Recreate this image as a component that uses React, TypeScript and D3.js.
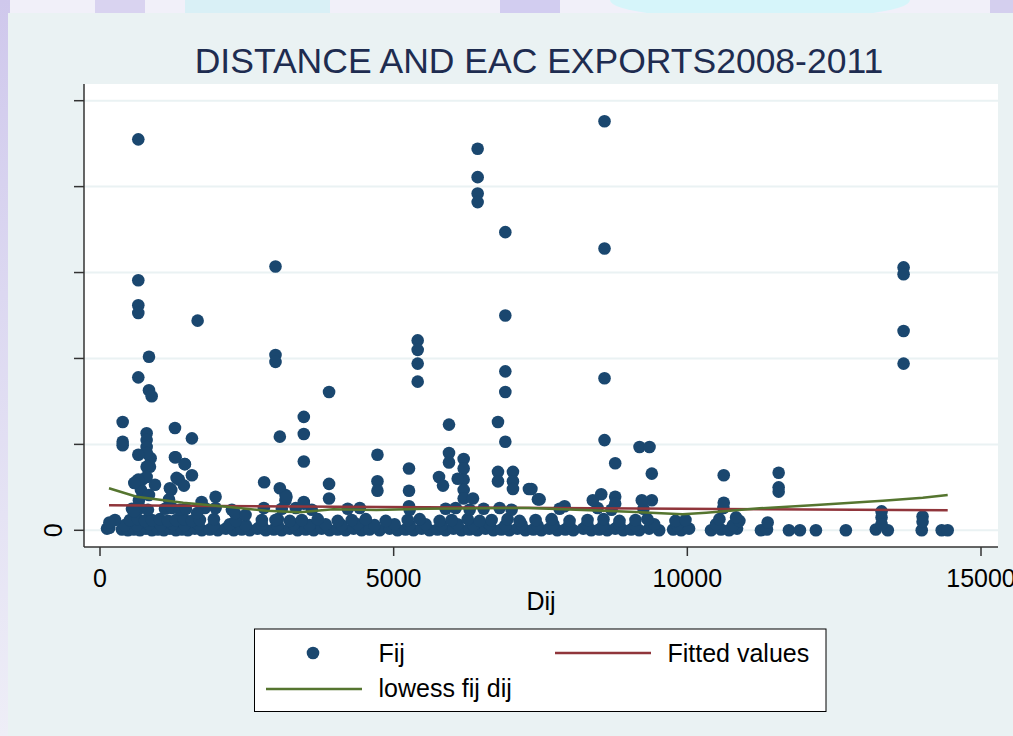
import React from "react";
import * as d3 from "d3";

// Tall observations (Dij in km, Fij in axis units; the ticks carry no labels except 0)
const peakObs: [number, number][] = [
  [652, 4.55], [652, 2.91], [652, 2.62], [652, 2.53], [652, 1.78],
  [834, 2.02], [834, 1.63], [880, 1.56],
  [386, 1.26], [386, 1.03], [386, 0.99],
  [794, 1.13], [794, 1.05], [794, 0.97], [794, 0.9], [794, 0.74], [794, 0.62],
  [652, 0.88], [652, 0.59], [584, 0.55], [936, 0.53],
  [1662, 2.44],
  [1276, 1.19], [1276, 0.85], [1446, 0.77], [1565, 1.07], [1565, 0.64], [1304, 0.61], [1190, 0.49],
  [2988, 3.07], [2988, 2.04], [2988, 1.96], [3062, 1.09],
  [2795, 0.56], [3062, 0.49], [3175, 0.39],
  [3470, 1.32], [3470, 1.12], [3470, 0.8], [3470, 0.31],
  [3900, 1.61], [3900, 0.54], [3900, 0.37],
  [8590, 4.76], [8590, 3.28], [8590, 1.77], [8590, 1.05],
  [6430, 4.44], [6430, 4.11], [6430, 3.92], [6430, 3.82],
  [6901, 3.47], [6901, 2.5], [6901, 1.85], [6901, 1.61], [6901, 1.03],
  [6776, 1.26],
  [5409, 2.21], [5409, 2.1], [5409, 1.94], [5409, 1.73],
  [5942, 1.23], [5942, 0.9], [5942, 0.79],
  [9186, 0.97], [9356, 0.97],
  [13682, 3.06], [13682, 2.98], [13682, 2.32], [13682, 1.94],
];

// Middle observations, roughly 0.2 to 0.9
const midObs: [number, number][] = [
  [6192, 0.83], [6192, 0.72], [6192, 0.59], [6192, 0.47], [6192, 0.37], [6090, 0.6],
  [5772, 0.62], [5840, 0.52],
  [6776, 0.68], [6776, 0.57],
  [7031, 0.68], [7031, 0.57], [7031, 0.48],
  [7303, 0.48], [7456, 0.36],
  [4724, 0.88], [4724, 0.57], [4724, 0.46],
  [5261, 0.72], [5261, 0.46], [5261, 0.28],
  [6350, 0.37],
  [8772, 0.78], [9395, 0.66], [9395, 0.35], [9225, 0.35], [10620, 0.64], [10620, 0.32],
  [7345, 0.48], [7485, 0.36], [7910, 0.28], [8391, 0.35], [8534, 0.42], [8772, 0.39], [8772, 0.31],
  [10830, 0.15],
  [11555, 0.67], [11555, 0.5], [11555, 0.45],
  [13307, 0.22], [13307, 0.15], [13307, 0.07], [14005, 0.16], [14005, 0.1], [11368, 0.09],
  [862, 0.84], [850, 0.74], [624, 0.57], [719, 0.59], [697, 0.47], [663, 0.35], [834, 0.41], [578, 0.22],
  [1287, 0.85], [1441, 0.77], [1344, 0.59], [1213, 0.47], [1174, 0.36], [1429, 0.52],
  [1730, 0.33], [1968, 0.39], [1655, 0.2], [1968, 0.26], [2296, 0.2], [2478, 0.18], [2790, 0.26],
  [3158, 0.41], [3158, 0.35], [2988, 0.12], [3470, 0.33],
  [160, 0.09],
];

// Dense band of small flows near zero
const lowObs: [number, number][] = [
  [119, 0.02], [160, 0.03], [374, 0.01], [476, 0.0], [578, 0.01], [680, 0.0], [782, 0.02], [884, 0.0],
  [986, 0.01], [1088, 0.0], [1190, 0.02], [1292, 0.0], [1394, 0.01], [1496, 0.0], [1615, 0.02],
  [1734, 0.0], [1870, 0.01], [2006, 0.0], [2142, 0.02], [2278, 0.0], [2414, 0.01], [2550, 0.0],
  [2686, 0.02], [2822, 0.0], [2958, 0.01], [3094, 0.0], [3230, 0.02], [3366, 0.0], [3502, 0.01],
  [3638, 0.0], [3774, 0.02], [3910, 0.0], [4046, 0.01], [4182, 0.0], [4318, 0.02], [4454, 0.0],
  [4590, 0.01], [4760, 0.0], [4930, 0.02], [5066, 0.0], [5202, 0.01], [5338, 0.0], [5474, 0.02],
  [5610, 0.0], [5746, 0.01], [5882, 0.0], [6018, 0.02], [6154, 0.0], [6290, 0.01], [6426, 0.0],
  [6562, 0.02], [6698, 0.0], [6834, 0.01], [6970, 0.0], [7106, 0.02], [7242, 0.0], [7378, 0.01],
  [7514, 0.0], [7650, 0.02], [7786, 0.0], [7922, 0.01], [8058, 0.0], [8228, 0.02], [8364, 0.0],
  [8500, 0.01], [8636, 0.0], [8772, 0.02], [8908, 0.0], [9044, 0.01], [9180, 0.0], [9350, 0.02],
  [9520, 0.0], [9758, 0.01], [9894, 0.0], [10030, 0.02], [10404, 0.0], [10574, 0.01], [10710, 0.0],
  [10846, 0.02], [11254, 0.0], [11356, 0.01], [11730, 0.0], [11917, 0.0], [12189, 0.0], [12699, 0.0],
  [13209, 0.01], [13413, 0.0], [13991, 0.0], [14331, 0.0], [14433, 0.0],
  [425, 0.06], [629, 0.06], [833, 0.07], [1037, 0.06], [1241, 0.07], [1445, 0.06], [1675, 0.07],
  [1938, 0.06], [2210, 0.07], [2482, 0.06], [2754, 0.07], [3026, 0.06], [3298, 0.07], [3570, 0.06],
  [3842, 0.07], [4114, 0.06], [4386, 0.07], [4675, 0.06], [5015, 0.07], [5270, 0.06], [5542, 0.07],
  [5814, 0.06], [6086, 0.07], [6358, 0.06], [6630, 0.07], [6902, 0.06], [7174, 0.07], [7446, 0.06],
  [7718, 0.07], [7990, 0.06], [8296, 0.07], [8568, 0.06], [8840, 0.07], [9112, 0.06], [9435, 0.07],
  [9826, 0.06], [10489, 0.07], [10778, 0.06],
  [255, 0.12], [510, 0.12], [646, 0.13], [765, 0.11], [884, 0.12], [1021, 0.13], [1157, 0.11],
  [1293, 0.12], [1429, 0.13], [1565, 0.11], [1701, 0.12], [1939, 0.13], [2313, 0.11], [2756, 0.12],
  [3028, 0.13], [3232, 0.11], [3436, 0.12], [3708, 0.13], [4048, 0.11], [4287, 0.12], [4525, 0.13],
  [4865, 0.11], [5239, 0.12], [5443, 0.13], [5783, 0.11], [5988, 0.12], [6260, 0.13], [6464, 0.11],
  [6668, 0.12], [6940, 0.13], [7144, 0.11], [7416, 0.12], [7689, 0.13], [7995, 0.11], [8301, 0.12],
  [8573, 0.13], [8845, 0.11], [9117, 0.12], [9321, 0.13], [9798, 0.11], [9968, 0.12], [10546, 0.13],
  [10886, 0.11],
  [544, 0.25], [680, 0.26], [816, 0.24], [1106, 0.25], [1225, 0.26], [1361, 0.24], [1463, 0.25],
  [1786, 0.26], [2245, 0.24], [3096, 0.25], [3334, 0.26], [3606, 0.24], [4218, 0.25], [4423, 0.26],
  [5273, 0.24], [5885, 0.25], [6056, 0.26], [6294, 0.24], [6532, 0.25], [6804, 0.26], [7008, 0.24],
  [7825, 0.25], [8471, 0.26], [8709, 0.24], [9253, 0.25], [10614, 0.26],
];

// Linear fit and lowess smoother
const fittedLine: [number, number][] = [[153, 0.291], [14433, 0.232]];
const lowessLine: [number, number][] = [
  [153, 0.489], [624, 0.391], [1417, 0.321], [2155, 0.275], [2836, 0.228], [3402, 0.209],
  [3966, 0.244], [4708, 0.236], [5558, 0.251], [7300, 0.26], [9016, 0.217], [9918, 0.186],
  [10321, 0.205], [11229, 0.256], [12194, 0.294], [13328, 0.345], [14008, 0.38], [14433, 0.411],
];

const xTicks = [0, 5000, 10000, 15000];
const yTicks = [0, 1, 2, 3, 4, 5];
const yTickLabels = ["0", "", "", "", "", ""];

const NAVY = "#1a476f";
const MAROON = "#90353b";
const GREEN = "#55752f";
const BG = "#eaf2f3";
const FONT = "'Liberation Sans', Arial, sans-serif";

export default function App() {
  const W = 1013;
  const H = 736;
  const plot = { left: 84, right: 998, top: 84, bottom: 547 };

  const x = d3.scaleLinear().domain([0, 15000]).range([100, 981]);
  const y = d3.scaleLinear().domain([0, 5]).range([530.3, 100.7]);

  const line = d3
    .line<[number, number]>()
    .x((d) => x(d[0]))
    .y((d) => y(d[1]));

  const allObs = [...lowObs, ...midObs, ...peakObs];

  return (
    <svg
      width={W}
      height={H}
      style={{ position: "absolute", left: 0, top: 0, fontFamily: FONT }}
    >
      <defs>
        <linearGradient id="leftStrip" x1="0" y1="0" x2="0" y2="1">
          <stop offset="0" stopColor="#cfc8ec" />
          <stop offset="0.4" stopColor="#dcd8f1" />
          <stop offset="1" stopColor="#eeeef7" />
        </linearGradient>
      </defs>

      {/* slide background behind the graph */}
      <rect x={0} y={0} width={W} height={H} fill="#f1f0f9" />
      <rect x={0} y={0} width={10} height={H} fill="url(#leftStrip)" />
      <rect x={95} y={0} width={50} height={13} fill="#d9d3f0" />
      <rect x={185} y={0} width={145} height={13} fill="#d9f0f6" />
      <rect x={500} y={0} width={60} height={13} fill="#d2cdf0" />
      <ellipse cx={760} cy={0} rx={150} ry={20} fill="#d6f5fa" />
      <rect x={990} y={0} width={23} height={13} fill="#d4cfee" />

      {/* graph region */}
      <rect x={8} y={13} width={W - 8} height={H - 13} fill={BG} />

      {/* plot region */}
      <rect
        x={plot.left}
        y={plot.top}
        width={plot.right - plot.left}
        height={plot.bottom - plot.top}
        fill="#ffffff"
      />

      {/* gridlines */}
      {yTicks.map((t) => (
        <line
          key={"g" + t}
          x1={plot.left}
          x2={plot.right}
          y1={y(t)}
          y2={y(t)}
          stroke={BG}
          strokeWidth={2}
        />
      ))}

      {/* scatter */}
      {allObs.map((d, i) => (
        <circle key={i} cx={x(d[0])} cy={y(d[1])} r={6.3} fill={NAVY} />
      ))}

      <path d={line(fittedLine) || ""} fill="none" stroke={MAROON} strokeWidth={2.5} />
      <path d={line(lowessLine) || ""} fill="none" stroke={GREEN} strokeWidth={2.5} />

      {/* axes */}
      <line x1={plot.left} x2={plot.left} y1={plot.top} y2={plot.bottom} stroke="#333" strokeWidth={1.5} />
      <line x1={plot.left} x2={plot.right} y1={plot.bottom} y2={plot.bottom} stroke="#333" strokeWidth={1.5} />
      {yTicks.map((t, i) => (
        <g key={"yt" + t}>
          <line x1={plot.left - 10} x2={plot.left} y1={y(t)} y2={y(t)} stroke="#333" strokeWidth={1.5} />
          {yTickLabels[i] && (
            <text
              transform={`translate(62,${y(t)}) rotate(-90)`}
              textAnchor="middle"
              fontSize={25}
              fill="#000"
            >
              {yTickLabels[i]}
            </text>
          )}
        </g>
      ))}
      {xTicks.map((t) => (
        <g key={"xt" + t}>
          <line x1={x(t)} x2={x(t)} y1={plot.bottom} y2={plot.bottom + 9} stroke="#333" strokeWidth={1.5} />
          <text x={x(t)} y={587} textAnchor="middle" fontSize={25} fill="#000">
            {d3.format("d")(t)}
          </text>
        </g>
      ))}
      <text x={541} y={610} textAnchor="middle" fontSize={25} fill="#000">
        Dij
      </text>

      {/* title */}
      <text x={539} y={73} textAnchor="middle" fontSize={35.5} fill="#1e2c50">
        DISTANCE AND EAC EXPORTS2008-2011
      </text>

      {/* legend */}
      <rect x={254.5} y={629} width={571.5} height={82.5} fill="#ffffff" stroke="#000" strokeWidth={1} />
      <circle cx={313} cy={653} r={6.3} fill={NAVY} />
      <text x={378.5} y={662} fontSize={25} fill="#000">Fij</text>
      <line x1={555} x2={651} y1={653} y2={653} stroke={MAROON} strokeWidth={2.5} />
      <text x={667.5} y={662} fontSize={25} fill="#000">Fitted values</text>
      <line x1={266} x2={362} y1={689} y2={689} stroke={GREEN} strokeWidth={2.5} />
      <text x={378.5} y={697} fontSize={25} fill="#000">lowess fij dij</text>
    </svg>
  );
}
